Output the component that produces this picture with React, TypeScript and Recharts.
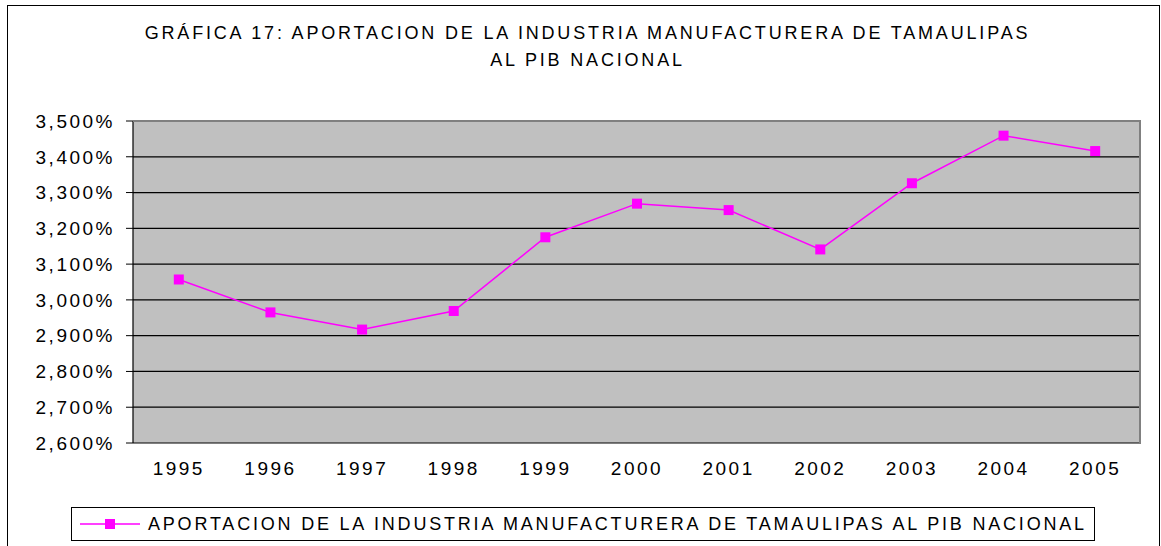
import React from "react";
import { LineChart, Line, XAxis, YAxis, CartesianGrid } from "recharts";

const years = ["1995", "1996", "1997", "1998", "1999", "2000", "2001", "2002", "2003", "2004", "2005"];
const aportacion = [3.057, 2.965, 2.917, 2.969, 3.175, 3.269, 3.251, 3.141, 3.326, 3.459, 3.416];
const yTicks = [2.6, 2.7, 2.8, 2.9, 3.0, 3.1, 3.2, 3.3, 3.4, 3.5];
const boundaryTicks = [0, 1, 2, 3, 4, 5, 6, 7, 8, 9, 10, 11];
const seriesName = "APORTACION DE LA INDUSTRIA MANUFACTURERA DE TAMAULIPAS AL PIB NACIONAL";
const titleLines = ["GRÁFICA 17: APORTACION DE LA INDUSTRIA MANUFACTURERA DE TAMAULIPAS", "AL PIB NACIONAL"];

const data = years.map((y, i) => ({ year: y, value: aportacion[i] }));

const FONT = "'Liberation Sans', Arial, sans-serif";
const MAGENTA = "#FF00FF";
const PLOT_W = 1008;
const BAND_HALF = PLOT_W / years.length / 2;

const SquareDot = (props: any) => {
  const { cx, cy } = props;
  if (cx == null || cy == null) return null;
  return <rect x={cx - 5} y={cy - 5} width={10} height={10} fill={MAGENTA} />;
};

const LegendBox = () => (
  <div
    style={{
      position: "absolute",
      left: 71,
      top: 507,
      border: "1px solid #000",
      width: 1024,
      height: 34,
      boxSizing: "border-box",
      display: "flex",
      alignItems: "center",
      fontFamily: FONT,
      fontSize: 18,
      letterSpacing: 2.8,
      color: "#000",
      background: "#fff",
    }}
  >
    <svg width={76} height={20} style={{ flex: "none" }}>
      <line x1={8} y1={10} x2={68} y2={10} stroke={MAGENTA} strokeWidth={1.5} />
      <rect x={33} y={5} width={10} height={10} fill={MAGENTA} />
    </svg>
    <span style={{ whiteSpace: "nowrap" }}>{seriesName}</span>
  </div>
);

export default function App() {
  return (
    <div style={{ position: "absolute", left: 0, top: 0, width: 1161, height: 546, overflow: "hidden", background: "#fff" }}>
      <div
        style={{
          position: "absolute",
          left: 7,
          top: 5,
          width: 1153,
          height: 600,
          border: "1.5px solid #000",
          boxSizing: "border-box",
        }}
      />
      <div
        style={{
          position: "absolute",
          left: 0,
          width: 1161,
          top: 20,
          textAlign: "center",
          fontFamily: FONT,
          fontSize: 18,
          letterSpacing: 2.82,
          lineHeight: "27px",
          color: "#000",
        }}
      >
        {titleLines.map((t) => (
          <div key={t} style={{ paddingLeft: 14 }}>{t}</div>
        ))}
      </div>
      <div style={{ position: "absolute", left: 0, top: 0 }}>
        <LineChart
          width={1161}
          height={546}
          data={data}
          margin={{ top: 121, right: 20, bottom: 63, left: 0 }}
        >
          <CartesianGrid
            xAxisId="cat"
            vertical={false}
            fill="#C0C0C0"
            fillOpacity={1}
            stroke="#000"
            strokeWidth={1.2}
          />
          <XAxis
            xAxisId="bounds"
            type="number"
            domain={[0, 11]}
            ticks={boundaryTicks}
            tick={false}
            tickSize={5}
            height={0}
            axisLine={{ stroke: "#000", strokeWidth: 1.2 }}
            tickLine={{ stroke: "#000" }}
            allowDataOverflow
          />
          <XAxis
            xAxisId="cat"
            dataKey="year"
            axisLine={false}
            tickLine={false}
            height={40}
            tickMargin={13}
            padding={{ left: BAND_HALF, right: BAND_HALF }}
            tick={{ fill: "#000", fontFamily: FONT, fontSize: 19, letterSpacing: 2.5 }}
            interval={0}
          />
          <YAxis
            domain={[2.6, 3.5]}
            ticks={yTicks}
            width={133}
            tickSize={7}
            tickMargin={11}
            axisLine={{ stroke: "#000", strokeWidth: 1.2 }}
            tickLine={{ stroke: "#000" }}
            tick={{ fill: "#000", fontFamily: FONT, fontSize: 19, letterSpacing: 2.5 }}
            tickFormatter={(v: number) => v.toFixed(3).replace(".", ",") + "%"}
            allowDataOverflow
          />
          <Line
            xAxisId="cat"
            type="linear"
            dataKey="value"
            name={seriesName}
            stroke={MAGENTA}
            strokeWidth={1.5}
            dot={<SquareDot />}
            activeDot={false}
            isAnimationActive={false}
          />
        </LineChart>
      </div>
      <div
        style={{
          position: "absolute",
          left: 133,
          top: 121,
          width: PLOT_W,
          height: 322,
          borderTop: "1px solid #808080",
          borderRight: "2px solid #808080",
          boxSizing: "border-box",
          pointerEvents: "none",
        }}
      />
      <LegendBox />
    </div>
  );
}
